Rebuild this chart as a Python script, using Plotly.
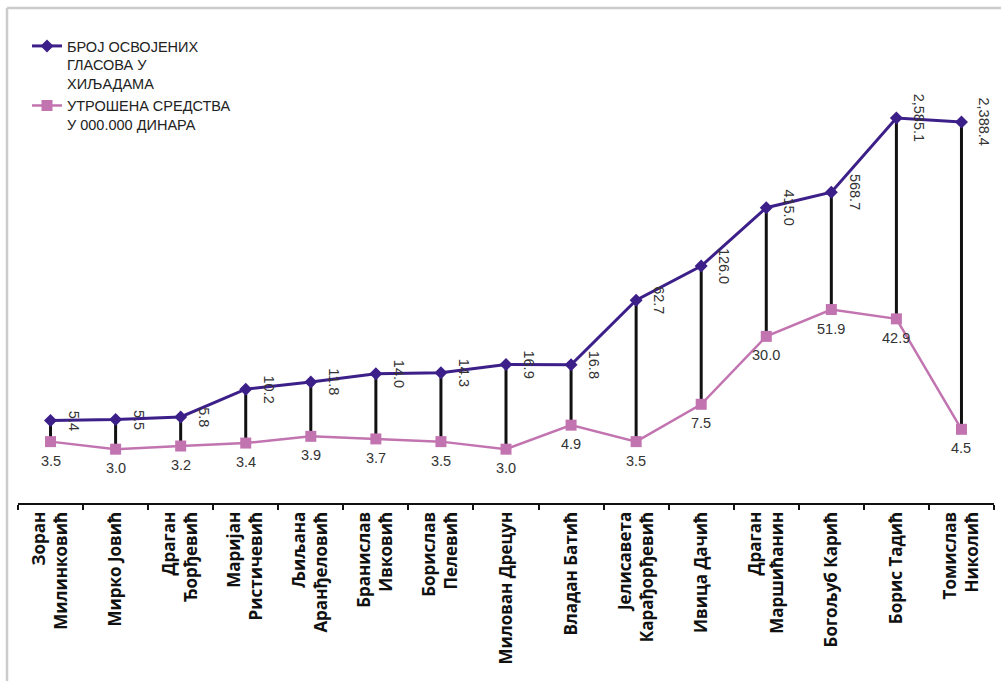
import numpy as np
import plotly.graph_objects as go

candidates = [
    "Зоран<br>Милинковић", "Мирко Јовић", "Драган<br>Ђорђевић", "Маријан<br>Ристичевић",
    "Љиљана<br>Аранђеловић", "Бранислав<br>Ивковић", "Борислав<br>Пелевић", "Милован Дрецун",
    "Владан Батић", "Јелисавета<br>Карађорђевић", "Ивица Дачић", "Драган<br>Маршићанин",
    "Богољуб Карић", "Борис Тадић", "Томислав<br>Николић",
]
votes = [5.4, 5.5, 5.8, 10.2, 11.8, 14.0, 14.3, 16.9, 16.8, 62.7, 126.0, 415.0, 568.7, 2585.1, 2388.4]
spent = [3.5, 3.0, 3.2, 3.4, 3.9, 3.7, 3.5, 3.0, 4.9, 3.5, 7.5, 30.0, 51.9, 42.9, 4.5]

votes_name = "БРОЈ ОСВОЈЕНИХ<br>ГЛАСОВА У<br>ХИЉАДАМА"
spent_name = "УТРОШЕНА СРЕДСТВА<br>У 000.000 ДИНАРА"

PURPLE = "#3c1f88"
PINK = "#c274b0"

# high-low connector lines
hx, hy = [], []
for c, v, s in zip(candidates, votes, spent):
    hx += [c, c, None]
    hy += [v, s, None]

fig = go.Figure()
fig.add_trace(go.Scatter(x=hx, y=hy, mode="lines", line=dict(color="#111111", width=3),
                         showlegend=False, hoverinfo="skip"))
fig.add_trace(go.Scatter(x=candidates, y=votes, mode="lines+markers", name=votes_name,
                         line=dict(color=PURPLE, width=3),
                         marker=dict(symbol="diamond", size=10, color=PURPLE)))
fig.add_trace(go.Scatter(x=candidates, y=spent, mode="lines+markers", name=spent_name,
                         line=dict(color=PINK, width=2.5),
                         marker=dict(symbol="square", size=11, color=PINK)))

annotations = []
for c, v in zip(candidates, votes):
    annotations.append(dict(x=c, y=np.log10(v), xref="x", yref="y", text=f"{v:,.1f}",
                            textangle=90, showarrow=False, xshift=23,
                            font=dict(family="Liberation Sans, Arial", size=14.5, color="#333333")))
for c, s in zip(candidates, spent):
    annotations.append(dict(x=c, y=np.log10(s), xref="x", yref="y", text=f"{s:.1f}",
                            showarrow=False, yshift=-19,
                            font=dict(family="Liberation Sans, Arial", size=14.5, color="#333333")))

W, H = 1002, 681
L, R = 18, 8
T = 30
AXIS_Y = 503
B = H - AXIS_Y
PX_PER_DECADE = 112.8
pw, ph = W - L - R, H - T - B
def px(x):
    return (x - L) / pw
def py(y):
    return (H - B - y) / ph

shapes = [
    dict(type="line", xref="paper", yref="paper", x0=px(7), x1=px(7), y0=py(8), y1=py(681),
         line=dict(color="#cccccc", width=2.5)),
    dict(type="line", xref="paper", yref="paper", x0=px(7), x1=px(1001), y0=py(8), y1=py(8),
         line=dict(color="#cccccc", width=2.5)),
]

fig.update_layout(
    width=W, height=H,
    margin=dict(l=L, r=R, t=T, b=B, autoexpand=False),
    paper_bgcolor="white", plot_bgcolor="white",
    annotations=annotations, shapes=shapes,
    legend=dict(x=px(27), y=py(30), xanchor="left", yanchor="top", valign="top",
                font=dict(family="Liberation Sans, Arial", size=14.5, color="#222222"),
                bgcolor="rgba(0,0,0,0)"),
    xaxis=dict(type="category", showgrid=False, zeroline=False, showline=True,
               linecolor="#111111", linewidth=2, ticks="outside", ticklen=5, tickwidth=2,
               tickcolor="#111111", tickson="boundaries", tickangle=-90,
               tickfont=dict(family="Open Sans", size=17, color="#111111", weight="bold"),
               range=[-0.5, len(candidates) - 0.5]),
    yaxis=dict(type="log", range=[0, ph / PX_PER_DECADE], visible=False, showgrid=False),
)

fig.write_html("out.html")
